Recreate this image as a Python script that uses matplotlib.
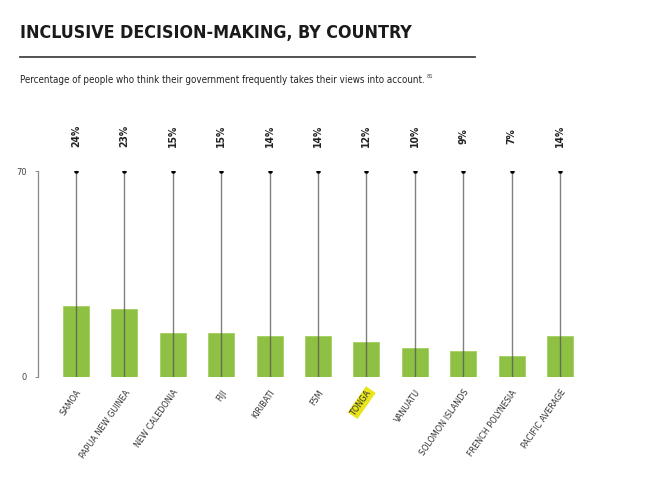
import matplotlib.pyplot as plt

countries = ['SAMOA', 'PAPUA NEW GUINEA', 'NEW CALEDONIA', 'FIJI', 'KIRIBATI', 'FSM',
             'TONGA', 'VANUATU', 'SOLOMON ISLANDS', 'FRENCH POLYNESIA', 'PACIFIC AVERAGE']
values = [24, 23, 15, 15, 14, 14, 12, 10, 9, 7, 14]
value_labels = ['24%', '23%', '15%', '15%', '14%', '14%', '12%', '10%', '9%', '7%', '14%']
y_max = 70

fig = plt.figure(figsize=(6.5, 4.88), dpi=100)
W, H = 650, 488
cond = dict(family='DejaVu Sans', stretch='condensed')

# title, rule and subtitle
fig.text(20 / W, 1 - 33 / H, 'INCLUSIVE DECISION-MAKING, BY COUNTRY', weight='bold',
         fontsize=12.8, color='#1a1a1a', va='center', ha='left', **cond)
fig.add_artist(plt.Line2D([20 / W, 475 / W], [1 - 57 / H, 1 - 57 / H], color='#444444', lw=1.3))
fig.text(20 / W, 1 - 80 / H, 'Percentage of people who think their government frequently takes their views into account.',
         fontsize=7.0, color='#222222', va='center', ha='left', **cond)
fig.text(427 / W, 1 - 76 / H, '81', fontsize=3.8, color='#444444', va='center', ha='left')

ax = fig.add_axes([38 / W, 1 - 377 / H, 582 / W, 206 / H])
x = list(range(len(countries)))
ax.bar(x, values, width=0.54, color='#8dc043', edgecolor='#a5d060', lw=0.6, zorder=2)
ax.vlines(x, 0, y_max, color='#555555', lw=1.0, alpha=0.75, zorder=3)
ax.scatter(x, [y_max] * len(x), s=5, color='black', zorder=4)

for xi, lab in zip(x, value_labels):
    ax.text(xi, 82, lab, rotation=90, ha='center', va='center', fontsize=7.5,
            weight='bold', color='#222222', clip_on=False, **cond)

ax.set_xlim(-0.785, 11.24)
ax.set_ylim(0, y_max)
for s in ['top', 'right', 'bottom']:
    ax.spines[s].set_visible(False)
ax.spines['left'].set_color('#888888')
ax.spines['left'].set_linewidth(0.9)
ax.set_yticks([0, y_max])
ax.set_yticklabels(['0', '70'])
ax.tick_params(axis='y', length=2, width=0.6, color='#777777', labelsize=6, labelcolor='#444444', pad=6)
ax.set_xticks(x)
ax.set_xticklabels(countries, rotation=55, ha='right', va='top', rotation_mode='anchor',
                   fontsize=6.5, color='#333333', **cond)
ax.tick_params(axis='x', length=0, pad=8)
for t in ax.get_xticklabels():
    if t.get_text() == 'TONGA':
        t.set_bbox(dict(boxstyle='square,pad=0.15', facecolor='#e8e61a', edgecolor='none'))

fig.savefig('out.png', dpi=100)
